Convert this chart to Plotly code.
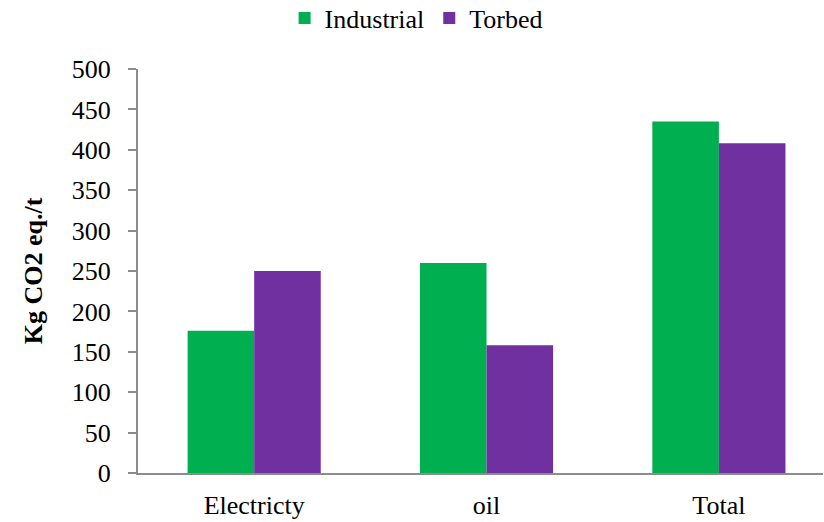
import plotly.graph_objects as go

categories = ["Electricty", "oil", "Total"]
industrial = [176, 260, 435]
torbed = [250, 158, 408]
series_names = ["Industrial", "Torbed"]
y_ticks = [0, 50, 100, 150, 200, 250, 300, 350, 400, 450, 500]

FONT = "Liberation Serif"
AXIS_COLOR = "#8c8c8c"

fig = go.Figure()
fig.add_trace(go.Bar(name=series_names[0], x=categories, y=industrial,
                     marker=dict(color="#00B050", line=dict(width=0))))
fig.add_trace(go.Bar(name=series_names[1], x=categories, y=torbed,
                     marker=dict(color="#7030A0", line=dict(width=0))))

fig.update_layout(
    width=824, height=522,
    margin=dict(l=138, r=1, t=69, b=49, autoexpand=False),
    paper_bgcolor="white", plot_bgcolor="white",
    barmode="group", bargap=0.427, bargroupgap=0,
    font=dict(family=FONT, size=26, color="black"),
    showlegend=True,
    legend=dict(orientation="h", x=0.406, xanchor="center", y=1.126, yanchor="middle",
                yref="paper", font=dict(size=26, family=FONT),
                itemwidth=30, tracegroupgap=0, bgcolor="rgba(0,0,0,0)"),
)

fig.update_xaxes(
    range=[-0.5, 2.448],
    showline=True, linecolor=AXIS_COLOR, linewidth=2,
    ticks="", showgrid=False, zeroline=False,
    ticklabelstandoff=8,
    tickfont=dict(size=26, family=FONT),
)
fig.update_yaxes(
    range=[0, 500], tickvals=y_ticks,
    showline=True, linecolor=AXIS_COLOR, linewidth=2,
    ticks="outside", ticklen=8, tickcolor=AXIS_COLOR, tickwidth=2,
    showgrid=False, zeroline=False,
    ticklabelstandoff=12,
    tickfont=dict(size=26, family=FONT),
    title=dict(text="<b>Kg CO2 eq./t</b>", font=dict(size=26, family=FONT), standoff=22),
)

fig.write_html("out.html", config={"displayModeBar": False},
               post_script="document.body.style.margin='0';")
